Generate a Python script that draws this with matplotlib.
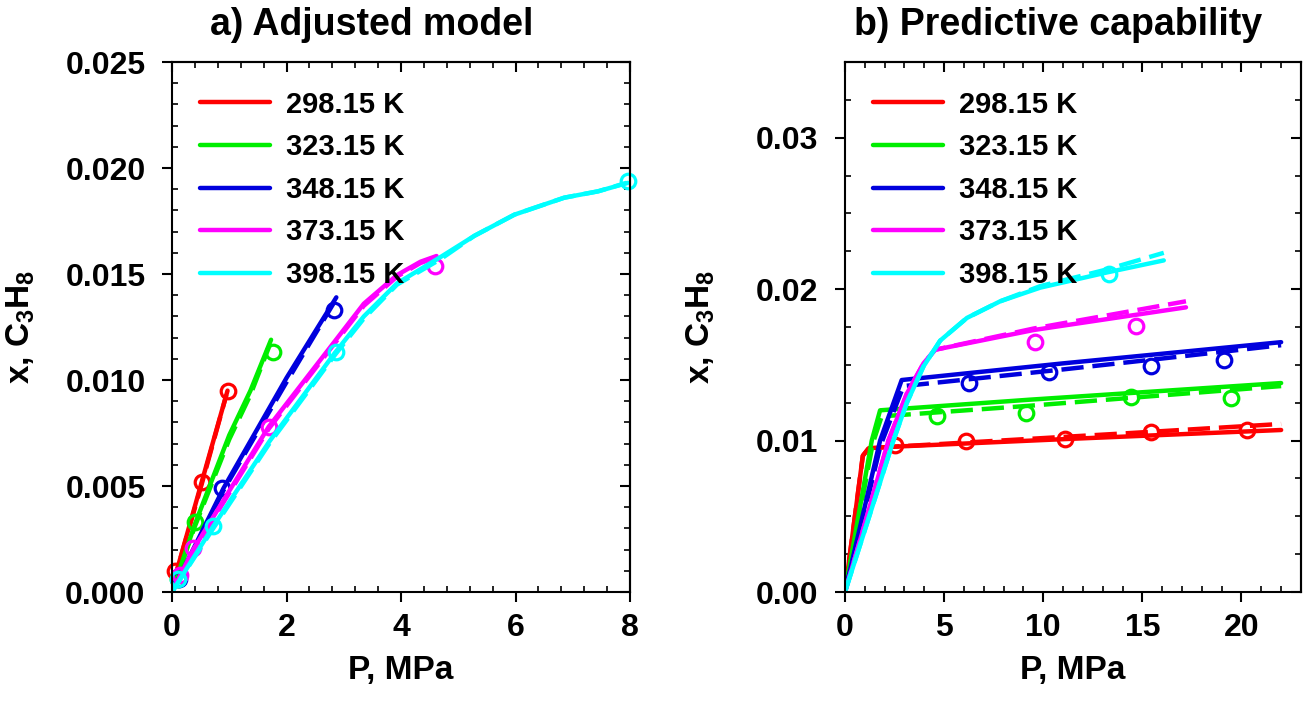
import matplotlib
matplotlib.use('Agg')
import matplotlib.pyplot as plt
from matplotlib.ticker import MultipleLocator, FormatStrFormatter

plt.rcParams['font.family'] = ['Liberation Sans', 'DejaVu Sans']
plt.rcParams['font.weight'] = 'bold'
plt.rcParams['axes.labelweight'] = 'bold'
plt.rcParams['mathtext.fontset'] = 'custom'
plt.rcParams['mathtext.rm'] = 'Liberation Sans:bold'
plt.rcParams['mathtext.bf'] = 'Liberation Sans:bold'
plt.rcParams['mathtext.it'] = 'Liberation Sans:bold'

temps = ['298.15 K', '323.15 K', '348.15 K', '373.15 K', '398.15 K']
colores = ['#ff0000', '#00ee00', '#0000dd', '#ff00ff', '#00ffff']

# ---- a) modelo ajustado: datos experimentales ----
a_p_exp = [
    [0.05, 0.52, 0.97],
    [0.10, 0.40, 1.76],
    [0.12, 0.87, 2.83],
    [0.14, 0.37, 1.69, 4.59],
    [0.11, 0.72, 2.87, 7.97],
]
a_x_exp = [
    [0.0010, 0.0052, 0.0095],
    [0.0006, 0.0033, 0.0113],
    [0.0006, 0.0049, 0.0133],
    [0.0008, 0.0021, 0.0078, 0.0154],
    [0.0006, 0.0031, 0.0113, 0.0194],
]
# curvas modelo (solida) y modelo alterno (discontinua)
a_p_sol = [
    [0.0, 0.52, 0.97],
    [0.0, 0.40, 1.00, 1.37, 1.73],
    [0.0, 0.90, 2.00, 2.87],
    [0.0, 0.37, 1.69, 2.77, 3.35, 3.93, 4.34, 4.62],
    [0.0, 0.72, 1.70, 2.85, 3.35, 3.93, 4.69, 5.28, 5.98, 6.85, 7.44, 7.96],
]
a_x_sol = [
    [0.0002, 0.0052, 0.0095],
    [0.0, 0.0032, 0.0074, 0.0095, 0.0119],
    [0.0, 0.0049, 0.0101, 0.0139],
    [0.0, 0.0020, 0.0078, 0.01157, 0.0136, 0.01495, 0.01558, 0.01585],
    [0.0, 0.0031, 0.0071, 0.0113, 0.0130, 0.01456, 0.0158, 0.0168, 0.0178, 0.0186, 0.0189, 0.0193],
]
a_p_das = [
    [0.0, 0.52, 0.95],
    [0.0, 0.40, 1.00, 1.37, 1.70],
    [0.0, 0.90, 2.00, 2.84],
    [0.0, 0.37, 1.69, 2.77, 3.35, 3.93, 4.34, 4.58],
    [0.0, 0.72, 1.70, 2.85, 3.35, 3.93, 4.69, 5.28, 5.98, 6.85, 7.44, 7.94],
]
a_x_das = [
    [0.0002, 0.0051, 0.0093],
    [0.0, 0.0031, 0.0072, 0.0093, 0.0116],
    [0.0, 0.0048, 0.0099, 0.0137],
    [0.0, 0.0019, 0.0077, 0.01148, 0.0135, 0.01488, 0.01552, 0.01575],
    [0.0, 0.0030, 0.0070, 0.0112, 0.0129, 0.01450, 0.0157, 0.0168, 0.0178, 0.0186, 0.0189, 0.0193],
]

# ---- b) capacidad predictiva ----
b_p_exp = [
    [2.53, 6.11, 11.11, 15.45, 20.29],
    [4.63, 9.14, 14.44, 19.49],
    [6.28, 10.30, 15.45, 19.13],
    [9.60, 14.70],
    [13.30],
]
b_x_exp = [
    [0.0097, 0.0100, 0.0101, 0.0106, 0.0107],
    [0.0116, 0.0118, 0.0129, 0.0128],
    [0.0138, 0.0145, 0.0149, 0.0153],
    [0.0165, 0.0176],
    [0.0210],
]
b_p_sol = [
    [0.0, 0.9, 1.2, 2.5, 11.1, 22.0],
    [0.0, 1.35, 1.77, 9.3, 22.0],
    [0.0, 1.77, 2.86, 11.0, 16.9, 22.0],
    [0.0, 1.0, 2.19, 3.12, 3.96, 4.55, 9.51, 17.2],
    [0.0, 1.2, 2.44, 3.12, 3.96, 4.80, 6.15, 7.83, 9.85, 13.2, 16.08],
]
b_x_sol = [
    [0.0, 0.0090, 0.0095, 0.0096, 0.0101, 0.0107],
    [0.0, 0.0100, 0.0120, 0.0127, 0.0138],
    [0.0, 0.0100, 0.0140, 0.0151, 0.01585, 0.0165],
    [0.0, 0.0045, 0.0100, 0.0131, 0.0151, 0.0160, 0.0173, 0.0188],
    [0.0, 0.0049, 0.0100, 0.0125, 0.0149, 0.0166, 0.0181, 0.0192, 0.0201, 0.0211, 0.0219],
]
b_p_das = [
    [0.0, 0.9, 1.2, 2.5, 14.4, 22.0],
    [0.0, 1.40, 1.85, 9.3, 22.0],
    [0.0, 1.80, 2.95, 11.0, 16.9, 22.0],
    [0.0, 1.0, 2.19, 3.12, 3.96, 4.55, 9.51, 17.2],
    [0.0, 1.2, 2.44, 3.12, 3.96, 4.80, 6.15, 7.83, 9.85, 13.2, 16.08],
]
b_x_das = [
    [0.0, 0.0090, 0.0095, 0.0096, 0.0105, 0.0111],
    [0.0, 0.0098, 0.0116, 0.0123, 0.0136],
    [0.0, 0.0097, 0.0136, 0.0147, 0.01555, 0.0163],
    [0.0, 0.0045, 0.0100, 0.0131, 0.0151, 0.0160, 0.0174, 0.0192],
    [0.0, 0.0049, 0.0100, 0.0125, 0.0149, 0.0166, 0.0181, 0.0192, 0.0202, 0.0213, 0.0224],
]

LW = 3.2


def dibujar(ax, p_sol, x_sol, p_das, x_das, p_exp, x_exp):
    for i in range(len(temps)):
        ax.plot(p_das[i], x_das[i], color=colores[i], lw=LW, dashes=(5, 2), solid_capstyle='round')
        ax.plot(p_sol[i], x_sol[i], color=colores[i], lw=LW, label=temps[i], solid_capstyle='round')
        ax.plot(p_exp[i], x_exp[i], 'o', mfc='none', mec=colores[i], ms=10.5, mew=2.3, clip_on=False)


def ejes(ax, xmax, ymax, xmaj, xmin, ymaj, ymin, fmt, ypad):
    ax.set_xlim(0, xmax)
    ax.set_ylim(0, ymax)
    ax.xaxis.set_major_locator(MultipleLocator(xmaj))
    ax.xaxis.set_minor_locator(MultipleLocator(xmin))
    ax.yaxis.set_major_locator(MultipleLocator(ymaj))
    ax.yaxis.set_minor_locator(MultipleLocator(ymin))
    ax.yaxis.set_major_formatter(FormatStrFormatter(fmt))
    ax.xaxis.set_major_formatter(FormatStrFormatter('%d'))
    ax.tick_params(which='major', direction='out', length=7, width=1.5, labelsize=23, pad=8)
    ax.tick_params(axis='y', which='major', pad=12)
    ax.tick_params(which='minor', direction='in', length=4.5, width=1.2)
    for s in ax.spines.values():
        s.set_linewidth(1.5)
    top = ax.secondary_xaxis('top')
    top.xaxis.set_major_locator(MultipleLocator(xmaj))
    top.xaxis.set_minor_locator(MultipleLocator(xmin))
    top.tick_params(which='major', direction='in', length=7, width=1.5, labeltop=False)
    top.tick_params(which='minor', direction='in', length=4.5, width=1.2)
    top.spines['top'].set_linewidth(1.5)
    der = ax.secondary_yaxis('right')
    der.yaxis.set_major_locator(MultipleLocator(ymaj))
    der.yaxis.set_minor_locator(MultipleLocator(ymin))
    der.tick_params(which='major', direction='in', length=7, width=1.5, labelright=False)
    der.tick_params(which='minor', direction='in', length=4.5, width=1.2)
    der.spines['right'].set_linewidth(1.5)
    ax.set_xlabel('P, MPa', fontsize=24, fontweight='bold', labelpad=9)
    ax.set_ylabel(r'x, C$_\mathbf{3}$H$_\mathbf{8}$', fontsize=24, fontweight='bold', labelpad=ypad)
    ax.legend(loc='upper left', frameon=False, fontsize=21, handlelength=2.4,
              handletextpad=0.55, labelspacing=0.5, borderaxespad=0.4,
              bbox_to_anchor=(0.01, 0.99))


fig = plt.figure(figsize=(13.05, 7.12), dpi=100)
ax1 = fig.add_axes([0.1318, 0.1685, 0.351, 0.7444])
ax2 = fig.add_axes([0.6475, 0.1685, 0.3494, 0.7444])

dibujar(ax1, a_p_sol, a_x_sol, a_p_das, a_x_das, a_p_exp, a_x_exp)
ejes(ax1, 8, 0.025, 2, 0.4, 0.005, 0.001, '%.3f', 20)

dibujar(ax2, b_p_sol, b_x_sol, b_p_das, b_x_das, b_p_exp, b_x_exp)
ejes(ax2, 23, 0.035, 5, 1, 0.01, 0.0025, '%.2f', 28)

fig.text(372 / 1305, 1 - 25 / 712, 'a) Adjusted model', fontsize=27, ha='center', va='center')
fig.text(1058 / 1305, 1 - 25 / 712, 'b) Predictive capability', fontsize=27, ha='center', va='center')

fig.savefig('out.png', dpi=100)
